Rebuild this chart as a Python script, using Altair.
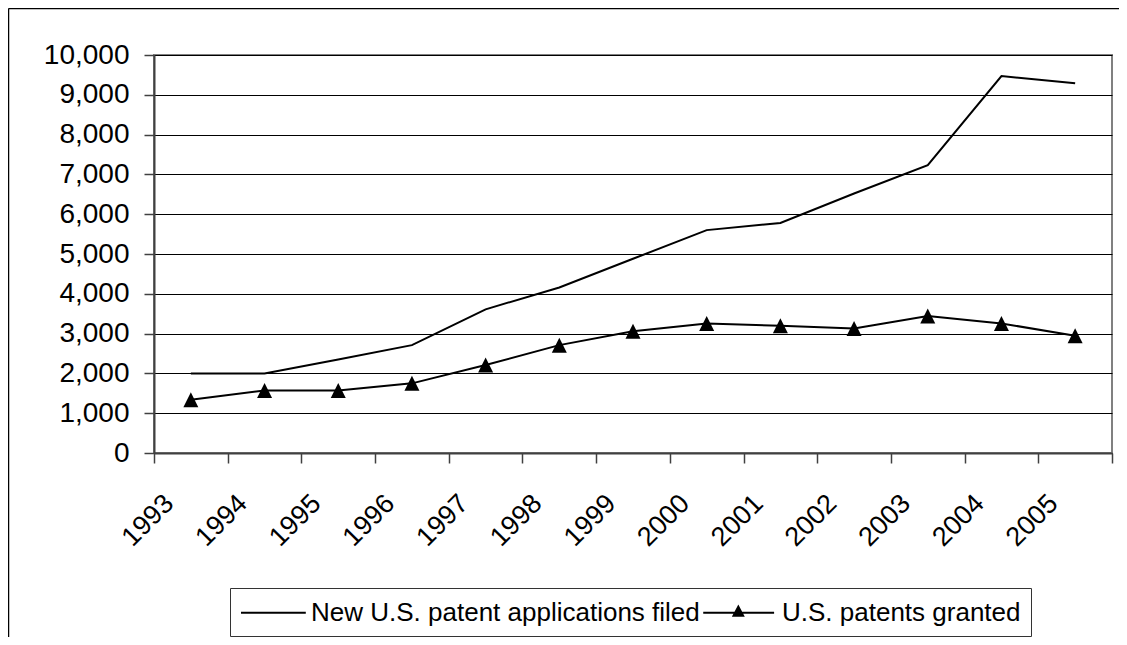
import altair as alt
import pandas as pd

years = ["1993", "1994", "1995", "1996", "1997", "1998", "1999",
         "2000", "2001", "2002", "2003", "2004", "2005"]
applications = [2000, 2000, 2350, 2710, 3610, 4160, 4880, 5600, 5780, 6520, 7230, 9470, 9290]
granted = [1340, 1570, 1570, 1750, 2210, 2710, 3060, 3255, 3195, 3130, 3440, 3255, 2945]
series_names = ["New U.S. patent applications filed", "U.S. patents granted"]
y_ticks = [0, 1000, 2000, 3000, 4000, 5000, 6000, 7000, 8000, 9000, 10000]

FONT = "Liberation Sans"
TRI = "M0,-1L1,1L-1,1Z"
LEG_LINE = "M-1,-0.075L3.8,-0.075L3.8,0.075L-1,0.075Z"
LEG_TRI = ("M-1.65,-0.075L3.6,-0.075L3.6,0.075L-1.65,0.075Z"
           "M0.95,-0.62L1.43,0.3L0.47,0.3Z")

rows = []
for i, yr in enumerate(years):
    rows.append({"year": yr, "series": series_names[0], "value": applications[i]})
    rows.append({"year": yr, "series": series_names[1], "value": granted[i]})
df = pd.DataFrame(rows)
df_granted = df[df["series"] == series_names[1]]
df_legend = pd.DataFrame({"year": [years[0], years[0]], "series": series_names, "value": [-5000, -5000]})
df_frame = pd.DataFrame({"k": [0]})

x_enc = alt.X(
    "year:O", sort=years,
    scale=alt.Scale(type="band", paddingInner=0, paddingOuter=0),
    axis=alt.Axis(
        title=None, labelAngle=-45, labelAlign="right", labelBaseline="middle",
        tickBand="extent", tickSize=10, tickColor="#404040", tickWidth=1.5,
        domainColor="#404040", domainWidth=2, grid=False,
        labelFont=FONT, labelFontSize=27, labelColor="black",
        labelPadding=36, labelOffset=-22,
    ),
)
y_enc = alt.Y(
    "value:Q",
    scale=alt.Scale(domain=[0, 10000], nice=False, zero=True),
    axis=alt.Axis(
        title=None, values=y_ticks, format=",d", grid=True, gridColor="black", gridWidth=1,
        domainColor="#404040", domainWidth=2, tickColor="#404040", tickWidth=1.5, tickSize=10,
        labelFont=FONT, labelFontSize=28, labelColor="black", labelPadding=15,
    ),
)

lines = alt.Chart(df).mark_line(color="black", strokeWidth=2).encode(
    x=x_enc, y=y_enc, detail="series:N"
)
tris = alt.Chart(df_granted).mark_point(
    shape=TRI, size=225, filled=True, color="black", opacity=1
).encode(x=x_enc, y=y_enc)

legend_layer = alt.Chart(df_legend).mark_point(
    clip=True, filled=True, color="black", size=729, opacity=1
).encode(
    x=x_enc, y=y_enc,
    shape=alt.Shape(
        "series:N",
        scale=alt.Scale(domain=series_names, range=[LEG_LINE, LEG_TRI]),
        legend=alt.Legend(
            title=None, orient="none", legendX=76, legendY=533, direction="horizontal",
            strokeColor="#333333", padding=10, labelFont=FONT, labelFontSize=26,
            labelColor="black", labelLimit=0, symbolSize=729,
            symbolFillColor="black",
            labelOffset=42, columnPadding=0,
        ),
    ),
)

frame_left = alt.Chart(df_frame).mark_rule(color="black", strokeWidth=1.5).encode(
    x=alt.value(-145.5), y=alt.value(-46.5), y2=alt.value(700)
)
frame_top = alt.Chart(df_frame).mark_rule(color="black", strokeWidth=1.5).encode(
    x=alt.value(-145.5), x2=alt.value(1100), y=alt.value(-46.5)
)

chart = alt.layer(lines, tris, legend_layer, frame_left, frame_top).properties(
    width=958, height=398,
    autosize=alt.AutoSizeParams(type="none"),
    padding={"left": 146, "top": 47, "right": 7, "bottom": 184},
    background="white",
).configure_view(stroke="#808080", strokeWidth=2)

chart.save("out.html", embed_options={"renderer": "svg", "actions": False})
